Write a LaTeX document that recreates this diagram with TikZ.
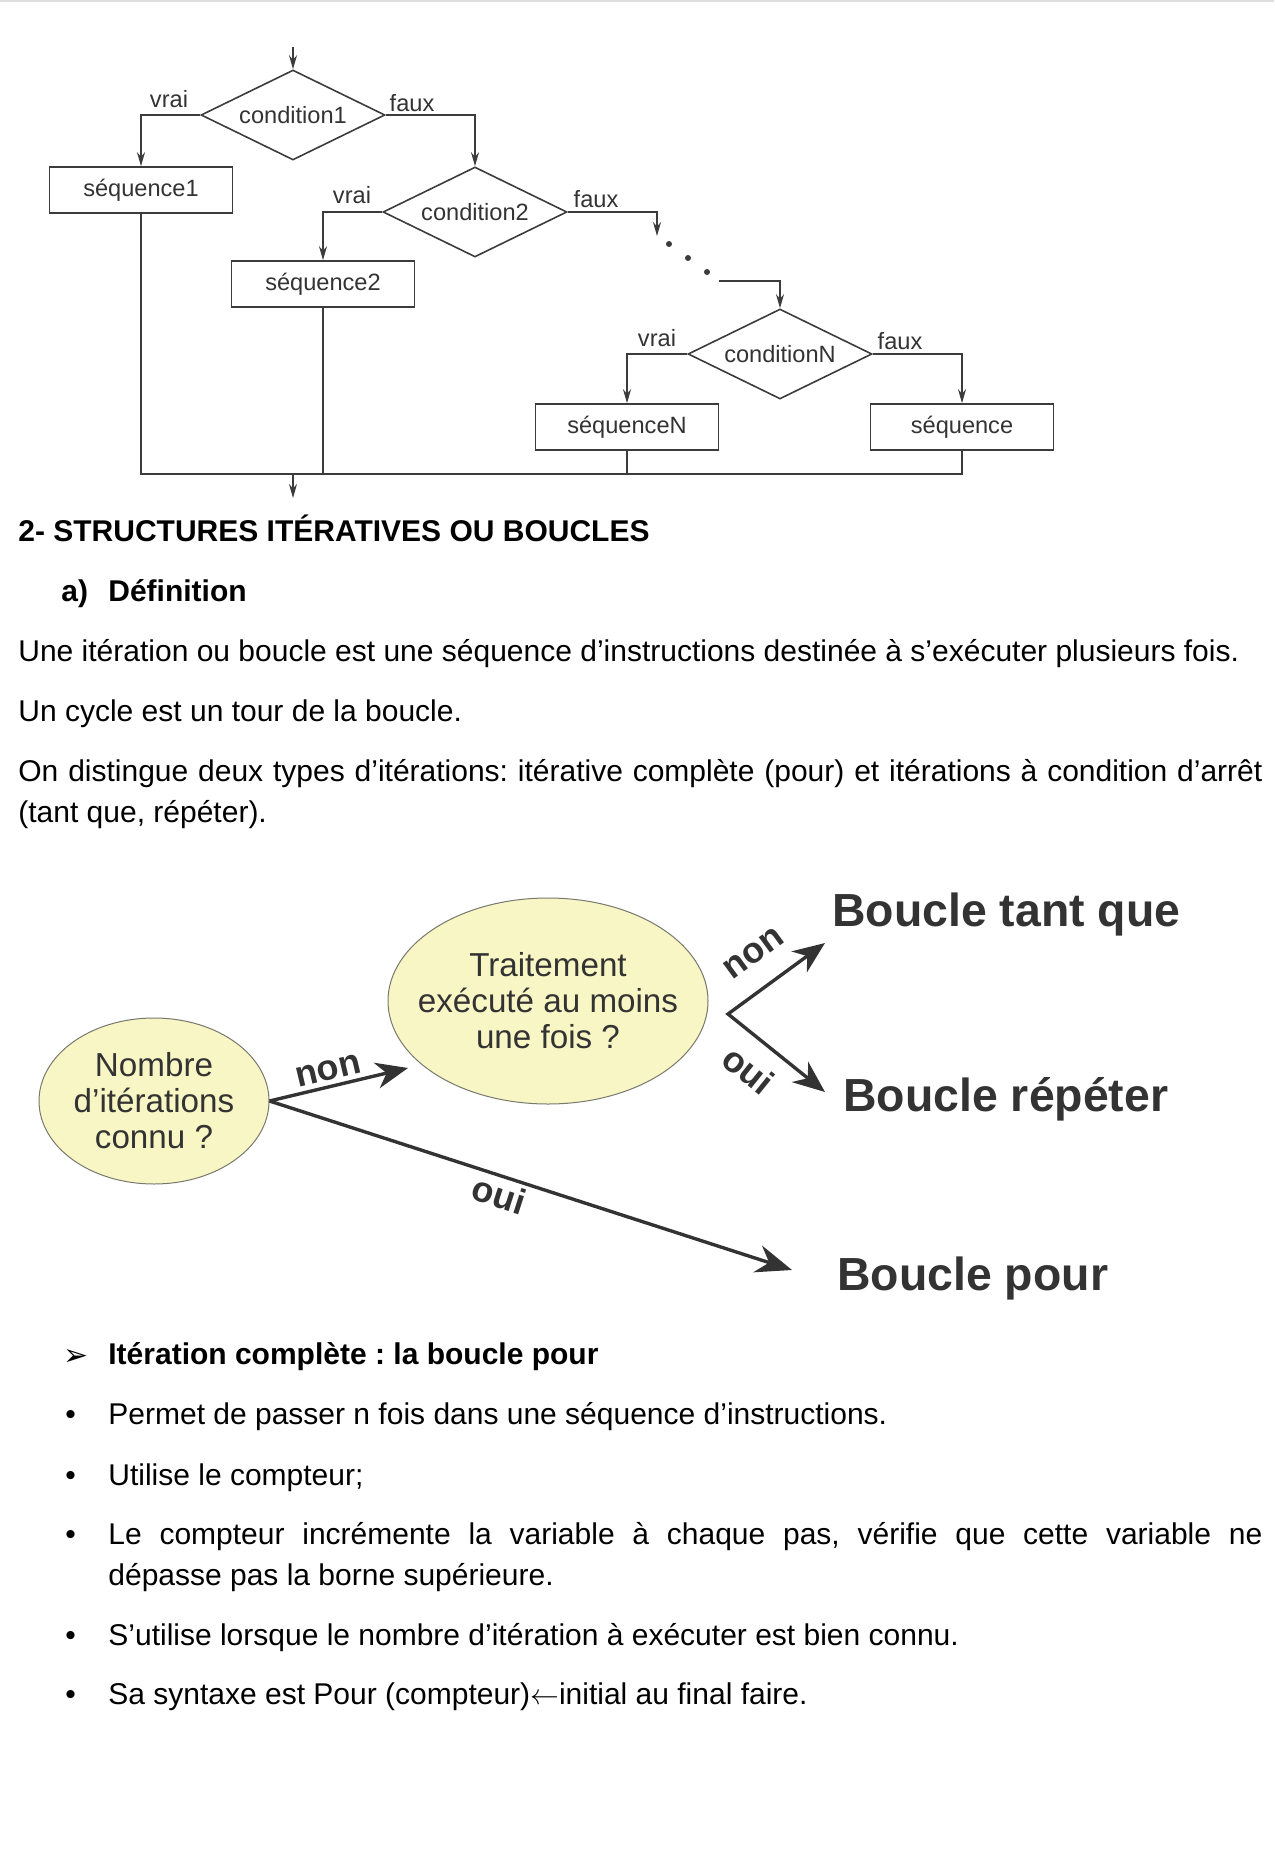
\documentclass[tikz,border=0pt]{standalone}
\usepackage{fontspec}
\setmainfont{Liberation Sans}
\newfontfamily\symfont{DejaVu Sans}
\usetikzlibrary{shapes.geometric, arrows.meta, positioning}
\definecolor{inkG}{RGB}{51,51,51}
\definecolor{lineG}{RGB}{60,60,60}
\definecolor{bubY}{RGB}{248,246,196}
\definecolor{edgeG}{RGB}{120,120,110}
\frenchspacing

\begin{document}
\begin{tikzpicture}[x=0.5pt, y=-0.5pt,
    cond/.style={diamond, aspect=2.05, draw=lineG, line width=0.8pt, minimum width=92pt, minimum height=45pt,
                 inner sep=0pt, font=\fontsize{11.8}{13}\selectfont, text=inkG},
    seqbox/.style={draw=lineG, line width=0.8pt, minimum width=91.5pt, minimum height=23pt,
                   inner sep=0pt, font=\fontsize{11.8}{13}\selectfont, text=inkG},
    lbl/.style={font=\fontsize{11.8}{13}\selectfont, text=inkG, inner sep=0pt},
    flow/.style={draw=lineG, line width=0.8pt, -{Stealth[length=7pt, width=4pt]}},
    wire/.style={draw=lineG, line width=0.8pt},
    txt/.style={anchor=base west, inner sep=0pt, font=\fontsize{15}{18}\selectfont},
    heading/.style={txt, font=\fontsize{15}{18}\selectfont\bfseries},
    bubble/.style={ellipse, draw=edgeG, fill=bubY, line width=0.5pt, align=center, text=inkG,
                   inner xsep=-10pt, inner ysep=0pt, font=\fontsize{16.6}{18}\selectfont},
    bname/.style={anchor=base west, inner sep=0pt, text=inkG, font=\fontsize{23.2}{26}\selectfont\bfseries},
    choice/.style={draw=inkG, line width=1.7pt, -{Stealth[length=16pt, width=13pt, inset=5pt]}},
    armlbl/.style={sloped, text=inkG, inner sep=2pt, font=\fontsize{18}{20}\selectfont\bfseries}
  ]
  \useasboundingbox (0,0) rectangle (1274,1850);
  \draw[gray!25, line width=1pt] (0,1) -- (1274,1);

  % organigramme si ... sinon si
  \coordinate (entry) at (293,47);
  \node[cond] (c1) at (293,115) {condition1};
  \node[seqbox] (s1) at (141,190) {séquence1};
  \node[cond] (c2) at (475,212) {condition2};
  \node[seqbox] (s2) at (323,284) {séquence2};
  \coordinate (d1) at (657,236);
  \coordinate (d2) at (719,281);
  \node[cond] (cN) at (780,354) {conditionN};
  \node[seqbox] (sN) at (627,427) {séquenceN};
  \node[seqbox] (sE) at (962,427) {séquence};
  \coordinate (bot) at (293,474);
  \coordinate (exit) at (293,498);

  \node[lbl] (v1) at (169,99) {vrai};
  \node[lbl] (f1) at (412,103) {faux};
  \node[lbl] (v2) at (352,195) {vrai};
  \node[lbl] (f2) at (596,199) {faux};
  \node[lbl] (vN) at (657,338) {vrai};
  \node[lbl] (fN) at (900,341) {faux};

  \draw[flow] (entry) -- (c1.north);
  \draw[flow] (c1.west) -| (s1.north);
  \draw[flow] (c1.east) -| (c2.north);
  \draw[flow] (c2.west) -| (s2.north);
  \draw[flow] (c2.east) -| (d1);
  \foreach \dx/\dy in {669/244, 688/258, 707/272}
    \fill[lineG] (\dx,\dy) circle (1.5pt);
  \draw[flow] (d2) -| (cN.north);
  \draw[flow] (cN.west) -| (sN.north);
  \draw[flow] (cN.east) -| (sE.north);
  \draw[wire] (s1.south) |- (sE.south |- bot) -- (sE.south);
  \draw[wire] (s2.south) -- (s2.south |- bot);
  \draw[wire] (sN.south) -- (sN.south |- bot);
  \draw[flow] (bot) -- (exit);

  % texte
  \node[heading] (ttl) at (18,541) {2- STRUCTURES ITÉRATIVES OU BOUCLES};
  \node[heading] (defn) at (61,601) {\makebox[23.5pt][l]{a)}Définition};
  \node[txt] (p1) at (18,661) {Une itération ou boucle est une séquence d’instructions destinée à s’exécuter plusieurs fois.};
  \node[txt] (p2) at (18,721) {Un cycle est un tour de la boucle.};
  \node[txt] (p3) at (18,781) {\makebox[622pt][s]{On distingue deux types d’itérations: itérative complète (pour) et itérations à condition d’arrêt}};
  \node[txt] (p4) at (18,822) {(tant que, répéter).};

  % choix de la boucle
  \node[bubble, minimum width=115pt, minimum height=83pt] (eA) at (154,1101) {Nombre\\d’itérations\\connu ?};
  \node[bubble, minimum width=160pt, minimum height=103pt] (eB) at (548,1001) {Traitement\\exécuté au moins\\une fois ?};
  \coordinate (nonT) at (408,1068);
  \coordinate (pourT) at (792,1270);
  \coordinate (fk) at (728,1014);
  \coordinate (tqT) at (825,943);
  \coordinate (rpT) at (825,1092);
  \node[bname] (tq) at (832,926) {Boucle tant que};
  \node[bname] (rp) at (843,1111) {Boucle répéter};
  \node[bname] (pr) at (837,1290) {Boucle pour};

  \draw[choice] (eA.east) -- (nonT) node[armlbl, pos=0.45, above] {non};
  \draw[choice, -{Stealth[length=18pt, width=14pt, inset=6pt]}] (eA.east) -- (pourT)
       node[armlbl, pos=0.45, below] {oui};
  \draw[choice, {Stealth[length=16pt, width=13pt, inset=5pt]}-{Stealth[length=16pt, width=13pt, inset=5pt]}]
       (tqT) -- (fk) node[armlbl, pos=0.53, above=9pt] {non} -- (rpT) node[armlbl, pos=0.41, below=6pt] {oui};

  % la boucle pour
  \node[anchor=base west, inner sep=0pt, font=\symfont\fontsize{15}{17}\selectfont] (mk) at (63,1365) {➢};
  \node[heading] (it) at (108,1364) {Itération complète : la boucle pour};
  \foreach \by in {1424,1485,1544,1645,1704}
    \node[txt] (k\by) at (65,\by) {•};
  \node[txt] (b1) at (108,1424) {Permet de passer n fois dans une séquence d’instructions.};
  \node[txt] (b2) at (108,1485) {Utilise le compteur;};
  \node[txt] (b3) at (108,1544) {\makebox[577pt][s]{Le compteur incrémente la variable à chaque pas, vérifie que cette variable ne}};
  \node[txt] (b3b) at (108,1585) {dépasse pas la borne supérieure.};
  \node[txt] (b4) at (108,1645) {S’utilise lorsque le nombre d’itération à exécuter est bien connu.};
  \node[txt] (b5) at (108,1704) {Sa syntaxe est Pour (compteur)$\leftarrow$initial au final faire.};
\end{tikzpicture}
\end{document}
